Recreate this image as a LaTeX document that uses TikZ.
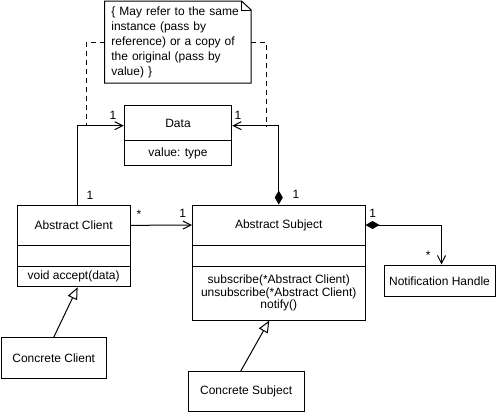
\documentclass[tikz,border=0pt]{standalone}
\usepackage{fontspec}
\setmainfont{Liberation Sans}
\usetikzlibrary{arrows.meta}

\begin{document}
\begin{tikzpicture}[
  x=1pt,
  y=-1pt,
  line width=1pt,
  font=\fontsize{12}{14}\selectfont,
  box/.style={draw, inner sep=0pt, anchor=center},
  mult/.style={inner sep=0pt, anchor=center},
  assoc/.style={-{Straight Barb[length=8pt,width=8pt]}},
  compose/.style={{Diamond[length=14pt,width=8pt]}-{Straight Barb[length=8pt,width=8pt]}},
  inherit/.style={-{Triangle[open,length=12pt,width=10pt,fill=white]}}
]
\useasboundingbox (0,0) rectangle (500,413);

% note
\node[inner xsep=6.35pt, inner ysep=0pt, text width=133pt, minimum height=81pt,
  align=left, font=\fontsize{12}{15}\selectfont] (note) at (177.85,42)
  {\{ May refer to the same\\instance (pass by\\reference) or a copy of\\the original (pass by\\value) \}};
\draw (note.north west) -- ([xshift=-9.7pt]note.north east) -- ([yshift=-9pt]note.north east)
  -- (note.south east) -- (note.south west) -- cycle;
\draw ([xshift=-9.7pt]note.north east) |- ([yshift=-9pt]note.north east);

% Data
\node[box, minimum width=107.4pt, minimum height=35pt] (dataN) at (178,123.2) {Data};
\node[box, minimum width=107.4pt, minimum height=25pt] (dataA) at (178,153.2) {value: type};

% Abstract Client
\node[box, minimum width=112.7pt, minimum height=40.7pt] (clientN) at (73.65,225.35) {Abstract Client};
\node[box, minimum width=112.7pt, minimum height=20.3pt] (clientA) at (73.65,255.85) {};
\node[box, minimum width=112.7pt, minimum height=20.7pt] (clientO) at (73.65,276.35) {void accept(data)};

% Abstract Subject
\node[box, minimum width=172.5pt, minimum height=40pt] (subjN) at (278.75,225) {Abstract Subject};
\node[box, minimum width=172.5pt, minimum height=21pt] (subjA) at (278.75,255.5) {};
\node[box, minimum width=172.5pt, minimum height=54pt, align=center,
  font=\fontsize{12}{12.3}\selectfont] (subjO) at (278.75,293)
  {subscribe(*Abstract Client)\\unsubscribe(*Abstract Client)\\notify()};

% other classes
\node[box, minimum width=111pt, minimum height=31.7pt] (handle) at (439.5,280.85) {Notification Handle};
\node[box, minimum width=105.5pt, minimum height=40.6pt] (cclient) at (53.75,358) {Concrete Client};
\node[box, minimum width=115.7pt, minimum height=39.3pt] (csubj) at (246.15,391.35) {Concrete Subject};

% connectors
\coordinate (lk) at (86.7,125.7);
\coordinate (rk) at (266.7,125.7);
\draw[assoc] ([xshift=4pt]clientN.north) |- ([yshift=-2.5pt]dataN.west);
\draw[compose] (subjN.north) |- ([yshift=-2.5pt]dataN.east);
\draw[dash pattern=on 5pt off 4pt] (note.west) -| (lk);
\draw[dash pattern=on 5pt off 4pt] (note.east) -| (rk);
\draw[assoc] (clientN.east) -- (subjN.west);
\draw[compose] (subjN.east) -| ([xshift=2pt]handle.north);
\draw[inherit] (cclient.north) -- ([xshift=4pt]clientO.south);
\draw[inherit] ([xshift=-5.5pt]csubj.north) -- ([xshift=-9.5pt]subjO.south);

% multiplicities
\node[mult] (m1) at (113,115) {1};
\node[mult] (m2) at (238,115) {1};
\node[mult] (m3) at (90,195) {1};
\node[mult] (m4) at (296,194) {1};
\node[mult] (m5) at (139,214) {*};
\node[mult] (m6) at (182.7,213) {1};
\node[mult] (m7) at (372.7,213.3) {1};
\node[mult] (m8) at (428.3,255) {*};
\end{tikzpicture}
\end{document}
